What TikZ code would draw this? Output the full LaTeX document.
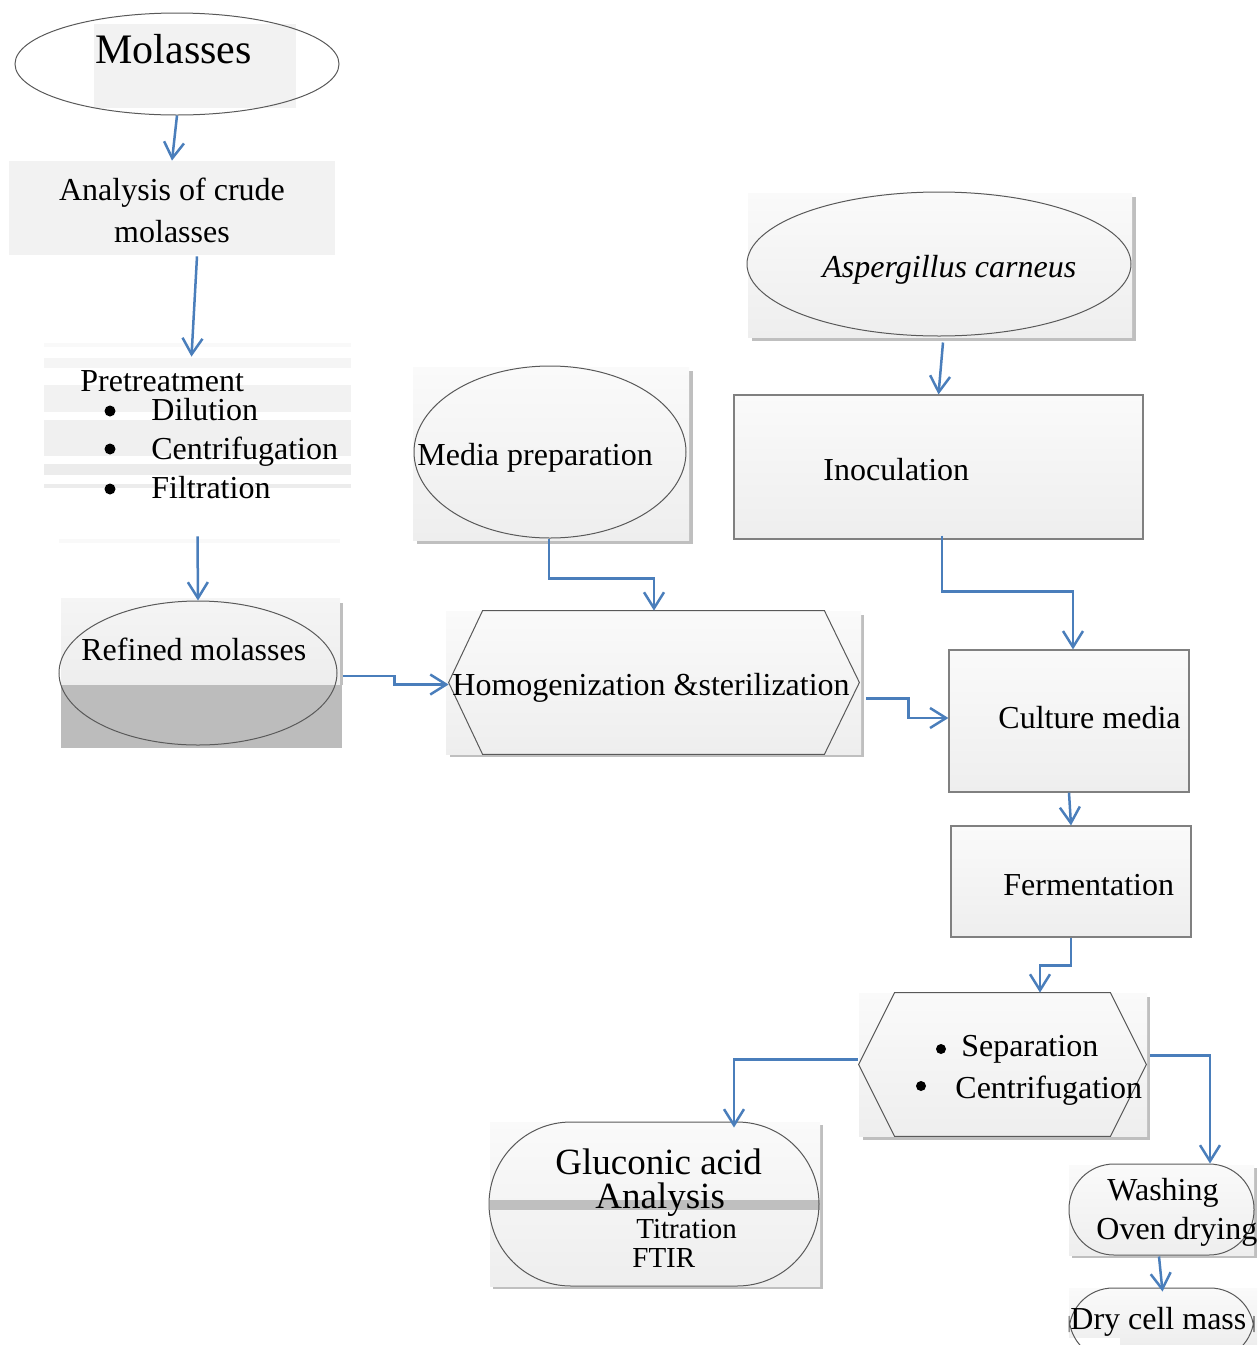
\documentclass[tikz,border=0pt]{standalone}
\usepackage{fontspec}
\setmainfont{Liberation Serif}
\usetikzlibrary{shapes.geometric,arrows.meta,calc}
\definecolor{arr}{HTML}{4A7EBB}
\definecolor{outl}{HTML}{595959}
\definecolor{boxl}{HTML}{808080}
\definecolor{shad}{HTML}{BFBFBF}
\definecolor{bgf}{HTML}{F2F2F2}
\definecolor{gtop}{HTML}{FAFAFA}
\definecolor{gbot}{HTML}{EEEEEE}
\definecolor{darkband}{HTML}{BCBCBC}
\begin{document}
\begin{tikzpicture}[x=0.5pt,y=-0.5pt,
  flow/.style={draw=arr,line width=1.25pt,-{Straight Barb[length=8pt,width=10pt]}},
  outline/.style={draw=outl,line width=0.5pt},
  grad/.style={top color=gtop,bottom color=gbot,draw=none},
  procbox/.style={draw=boxl,line width=0.6pt,top color=gtop,bottom color=gbot,inner sep=0pt},
  oval/.style={ellipse,outline,inner sep=0pt},
  txt/.style={font=\fontsize{16}{21}\selectfont,inner sep=0pt,anchor=base west},
  bigtxt/.style={font=\fontsize{21}{24}\selectfont,inner sep=0pt,anchor=base west},
  gtxt/.style={font=\fontsize{18.5}{22}\selectfont,inner sep=0pt,anchor=base west},
  smalltxt/.style={font=\fontsize{14.5}{17}\selectfont,inner sep=0pt,anchor=base west},
  blank/.style={inner sep=0pt,draw=none}
]
\useasboundingbox (0,0) rectangle (1259,1345);
\clip (0,0) rectangle (1259,1345);

% ---------- Molasses ----------
\fill[bgf] (94,24) rectangle (296,108);
\node[oval,minimum width=162pt,minimum height=51pt] (molasses) at (177,64) {};
\node[bigtxt] (tmol) at (95,63) {Molasses};

% ---------- Analysis ----------
\fill[bgf] (9,161) rectangle (335,255);
\node[blank,minimum width=163pt,minimum height=47pt] (analysis) at (172,208) {};
\node[txt,anchor=base] (tan1) at (172,200) {Analysis of crude};
\node[txt,anchor=base] (tan2) at (172,242) {molasses};

% ---------- Pretreatment ----------
\fill[white!97.5!black] (44,343) rectangle (351,347);
\fill[white!96!black] (44,358) rectangle (351,368);
\fill[bgf] (44,385) rectangle (351,412);
\fill[white!94!black] (44,420) rectangle (351,456);
\fill[white!92.5!black] (44,464) rectangle (351,475);
\fill[white!92.5!black] (44,484) rectangle (351,488);
\fill[white!97.5!black] (59,539) rectangle (340,543);
\node[blank,minimum width=153.5pt,minimum height=89.5pt] (pretreat) at (197.5,446.5) {};
\node[txt] (tpre) at (80,391) {Pretreatment};
\fill (110,411) circle (5.5);
\fill (110,449) circle (5.5);
\fill (110,489) circle (5.5);
\node[txt] (tdil) at (151,420) {Dilution};
\node[txt] (tcen) at (151,459) {Centrifugation};
\node[txt] (tfil) at (151,498) {Filtration};

% ---------- Refined molasses ----------
\shade[top color=white!96!black,bottom color=white!93!black] (61,598) rectangle (340,685);
\fill[shad] (340,603) rectangle (343,685);
\fill[darkband] (61,685) rectangle (342,748);
\node[oval,minimum width=139pt,minimum height=72pt] (refined) at (198,673) {};
\node[txt] (tref) at (81,660) {Refined molasses};

% ---------- Media preparation ----------
\fill[shad] (417,371) rectangle (693,544);
\shade[grad] (413,367) rectangle (689,540);
\node[oval,minimum width=136pt,minimum height=86pt] (media) at (550,452) {};
\node[txt] (tmed) at (417,465) {Media preparation};

% ---------- Homogenization ----------
\fill[shad] (450,615) rectangle (864,757);
\shade[grad] (446,611) rectangle (861,754);
\node[blank,minimum width=205pt,minimum height=71.5pt] (homog) at (654,682.5) {};
\draw[outline] ($(homog.north west)+(34,0)$) -- ($(homog.north east)+(-35,0)$)
  -- (homog.east) -- ($(homog.south east)+(-35,0)$) -- ($(homog.south west)+(34,0)$)
  -- (homog.west) -- cycle;
\node[txt] (thom) at (452,695) {Homogenization \&sterilization};

% ---------- Aspergillus ----------
\fill[shad] (752,197) rectangle (1136,341);
\shade[grad] (748,193) rectangle (1132,337);
\node[oval,minimum width=192pt,minimum height=72pt] (asp) at (939,264) {};
\node[txt] (tasp) at (822,277) {\itshape Aspergillus carneus};

% ---------- Inoculation ----------
\node[procbox,minimum width=204.5pt,minimum height=72pt] (inoc) at (938.5,467) {};
\node[txt] (tino) at (823,480) {Inoculation};

% ---------- Culture media ----------
\node[procbox,minimum width=120pt,minimum height=71pt] (culture) at (1069,721) {};
\node[txt] (tcul) at (998,728) {Culture media};

% ---------- Fermentation ----------
\node[procbox,minimum width=120pt,minimum height=55.5pt] (ferm) at (1071,881.5) {};
\node[txt] (tfer) at (1003,895) {Fermentation};

% ---------- Separation ----------
\fill[shad] (863,997) rectangle (1150,1140);
\shade[grad] (859,993) rectangle (1147,1136);
\node[blank,minimum width=143.5pt,minimum height=71.5pt] (sep) at (1002.5,1064.5) {};
\draw[outline] ($(sep.north west)+(36,0)$) -- ($(sep.north east)+(-36,0)$)
  -- (sep.east) -- ($(sep.south east)+(-36,0)$) -- ($(sep.south west)+(36,0)$)
  -- (sep.west) -- cycle;
\fill (941,1049) circle (5);
\fill (921,1086) circle (5);
\node[txt] (tsep) at (961,1056) {Separation};
\node[txt] (tcen2) at (955,1098) {Centrifugation};

% ---------- Gluconic acid ----------
\fill[shad] (493,1125) rectangle (823,1289);
\shade[grad] (490,1122) rectangle (820,1286);
\fill[shad] (490,1200) rectangle (820,1210);
\node[rectangle,outline,rounded corners=41pt,inner sep=0pt,
      minimum width=165pt,minimum height=82pt] (gluc) at (654,1204) {};
\node[gtxt,text depth=0pt] (tglu) at (555,1174) {Gluconic acid};
\node[gtxt,text height=12pt] (tana) at (595,1208) {Analysis};
\node[smalltxt] (ttit) at (636,1238) {Titration};
\node[smalltxt] (tftir) at (632,1267) {FTIR};

% ---------- Washing ----------
\fill[shad] (1072,1168) rectangle (1257,1258);
\shade[grad] (1069,1165) rectangle (1254,1255);
\node[rectangle,outline,rounded corners=22.5pt,inner sep=0pt,
      minimum width=92.5pt,minimum height=45.5pt] (wash) at (1161.5,1209.5) {};
\node[txt] (twas) at (1107,1200) {Washing};
\node[txt] (toven) at (1096,1239) {Oven drying};

% ---------- Dry cell mass ----------
\shade[grad] (1069,1288) rectangle (1257,1345);
\fill[white] (1069,1338) rectangle (1120,1345);
\node[rectangle,outline,rounded corners=22pt,inner sep=0pt,
      minimum width=92.5pt,minimum height=36pt] (dry) at (1161.5,1324) {};
\node[txt] (tdry) at (1070,1329) {Dry cell mass};

% ---------- Connectors ----------
\draw[flow] (molasses.south) -- (analysis.north);
\draw[flow] ($(analysis.south)+(25,1)$) -- ($(pretreat.north)+(-6,0)$);
\draw[flow] (pretreat.south) -- (refined.north);
\draw[flow] ($(refined.east)+(5,3)$) -- ++(52,0) |- ($(homog.west)+(0,2)$);
\draw[flow] ($(media.south)+(-1,0)$) -- ++(0,40) -| (homog.north);
\draw[flow] ($(homog.east)+(7,16)$) -- ++(42,0) |- ($(culture.west)+(0,-3)$);
\draw[flow] ($(asp.south)+(4,6)$) -- (inoc.north);
\draw[flow] ($(inoc.south)+(3.5,-4)$) -- ++(0,56) -| ($(culture.north)+(4,0)$);
\draw[flow] (culture.south) -- (ferm.north);
\draw[flow] (ferm.south) -- ++(0,28) -| ($(sep.north)+(37.5,0)$);
\draw[flow] ($(sep.west)+(-1,-5)$) -| ($(gluc.north)+(80,6)$);
\draw[flow] ($(sep.east)+(4,-9)$) -| ($(wash.north)+(48.5,0)$);
\draw[flow] ($(wash.south)+(-2.5,1)$) -- ($(dry.north)+(1,4)$);
\end{tikzpicture}
\end{document}
